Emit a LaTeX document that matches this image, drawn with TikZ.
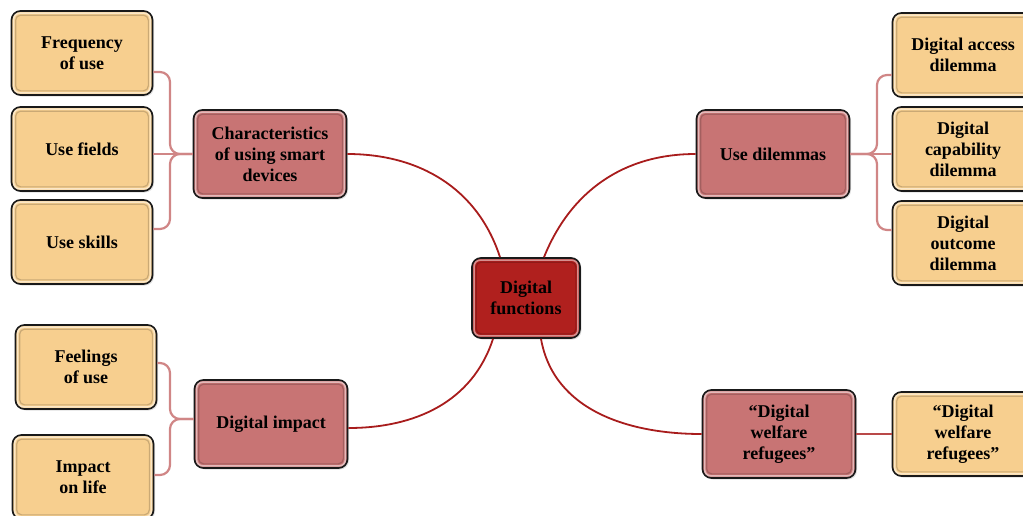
\documentclass[tikz,border=0pt]{standalone}
\usepackage{fontspec}
\setmainfont{Liberation Serif}
\usetikzlibrary{shadows}
\definecolor{leafc}{HTML}{F7CF8F}
\definecolor{midc}{HTML}{C87474}
\definecolor{hubc}{HTML}{B0201E}
\definecolor{mainln}{HTML}{A81C1C}
\definecolor{subln}{HTML}{D08686}
\begin{document}
\begin{tikzpicture}[x=1pt,y=-1pt,
  box/.style={draw=black!90, line width=1.7pt, rounded corners=9pt, align=center,
    font=\bfseries\fontsize{18}{21}\selectfont, inner sep=2pt,
    drop shadow={opacity=0.25, shadow xshift=1.5pt, shadow yshift=-1.5pt}},
  leaf/.style={box, fill=leafc, minimum width=141pt, minimum height=84pt},
  mid/.style={box, fill=midc, minimum width=153pt, minimum height=88pt},
  hub/.style={box, fill=hubc, minimum width=108pt, minimum height=80pt},
  bevel/.style={rounded corners=6pt, draw=white, opacity=0.5, line width=1.6pt},
  bevelshade/.style={rounded corners=5pt, draw=black, opacity=0.18, line width=1.2pt},
  mainlink/.style={draw=mainln, line width=1.8pt},
  sublink/.style={draw=subln, line width=2.2pt, rounded corners=10pt},
  thinlink/.style={draw=mainln!80, line width=1.2pt}]
\useasboundingbox (0,0) rectangle (1023,515);
\clip (0,0) rectangle (1023,515);

% hub and first-level topics
\node[hub] (hub) at (526,298) {Digital\\functions};
\node[mid] (chars) at (270,154) {Characteristics\\of using smart\\devices};
\node[mid] (dilem) at (773,154) {Use dilemmas};
\node[mid] (impact) at (271,424) {Digital impact};
\node[mid] (refug) at (779,434) {``Digital\\welfare\\refugees''};

% second-level topics
\node[leaf] (freq) at (82,53) {Frequency\\of use};
\node[leaf] (fields) at (82,149) {Use fields};
\node[leaf] (skills) at (82,242) {Use skills};
\node[leaf] (access) at (963,55) {Digital access\\dilemma};
\node[leaf] (capab) at (963,149) {Digital\\capability\\dilemma};
\node[leaf] (outc) at (963,243) {Digital\\outcome\\dilemma};
\node[leaf] (feel) at (86,367) {Feelings\\of use};
\node[leaf] (life) at (83,477) {Impact\\on life};
\node[leaf] (refug2) at (963,434) {``Digital\\welfare\\refugees''};

% raised-edge look on every box
\foreach \n in {hub,chars,dilem,impact,refug,freq,fields,skills,access,capab,outc,feel,life,refug2}{
  \draw[bevel] ([shift={(3pt,3pt)}]\n.south west) rectangle ([shift={(-3pt,-3pt)}]\n.north east);
  \draw[bevelshade] ([shift={(5pt,5pt)}]\n.south west) rectangle ([shift={(-5pt,-5pt)}]\n.north east);
}

% hub connectors
\draw[mainlink] ([xshift=-26pt]hub.north) to[out=108,in=0] (chars.east);
\draw[mainlink] ([xshift=18pt]hub.north) to[out=68,in=180] (dilem.west);
\draw[mainlink] ([xshift=-33pt]hub.south) to[out=-108,in=0] ([yshift=-4pt]impact.east);
\draw[mainlink] ([xshift=15pt]hub.south) to[out=-80,in=180] (refug.west);

% left upper branch
\draw[sublink] ([yshift=-19pt]freq.east) -- (170,72) -- (170,154) -- (chars.west);
\draw[sublink] (fields.east |- chars.west) -- (chars.west);
\draw[sublink] ([yshift=13pt]skills.east) -- (170,229) -- (170,154) -- (chars.west);

% right upper branch
\draw[sublink] ([yshift=-20pt]access.west) -- (877,75) -- (877,154) -- (dilem.east);
\draw[sublink] (capab.west |- dilem.east) -- (dilem.east);
\draw[sublink] ([yshift=13pt]outc.west) -- (877,230) -- (877,154) -- (dilem.east);

% left lower branch
\draw[sublink] ([yshift=4pt]feel.east) -- (170,363) -- (170,419) -- ([yshift=5pt]impact.west);
\draw[sublink] ([yshift=2pt]life.east) -- (170,475) -- (170,419) -- ([yshift=5pt]impact.west);

% right lower branch
\draw[thinlink] (refug.east) -- (refug2.west);
\end{tikzpicture}
\end{document}
